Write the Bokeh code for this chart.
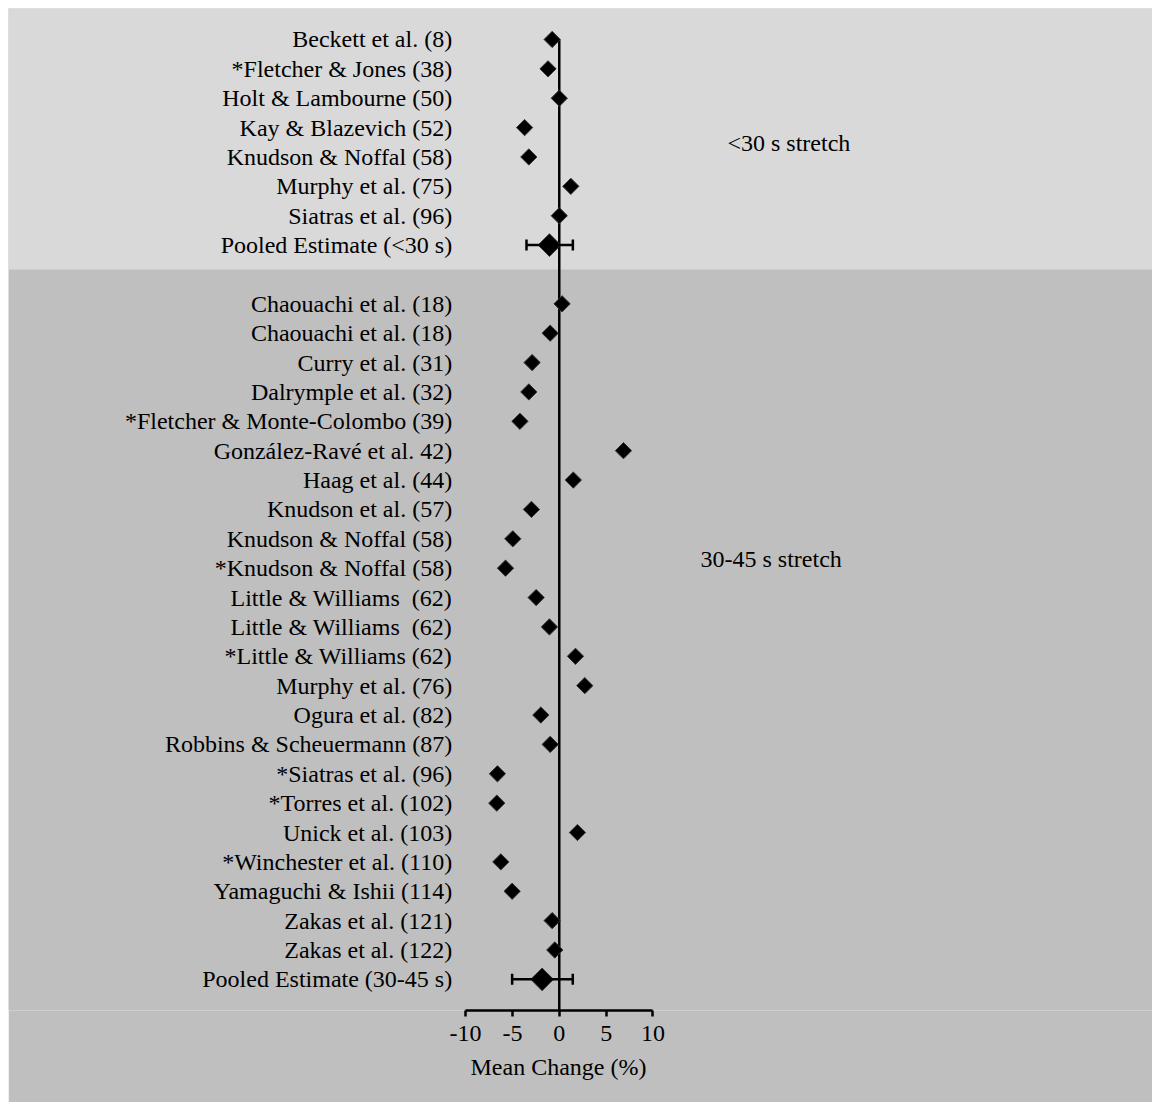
from bokeh.plotting import figure
from bokeh.models import (ColumnDataSource, Range1d, FixedTicker, BoxAnnotation,
                          Whisker, TeeHead, Spacer, Title)
from bokeh.layouts import column, row
from bokeh.core.properties import value
from bokeh.embed import file_html
from bokeh.resources import INLINE

# ---------------- data ----------------
short_labels = ["Beckett et al. (8)", "*Fletcher & Jones (38)", "Holt & Lambourne (50)",
                "Kay & Blazevich (52)", "Knudson & Noffal (58)", "Murphy et al. (75)",
                "Siatras et al. (96)"]
short_values = [-0.76, -1.2, 0.0, -3.7, -3.25, 1.23, 0.0]
short_pooled_label = "Pooled Estimate (<30 s)"
short_pooled = [-1.05, -3.5, 1.45]   # mean, lower, upper

long_labels = ["Chaouachi et al. (18)", "Chaouachi et al. (18)", "Curry et al. (31)",
               "Dalrymple et al. (32)", "*Fletcher & Monte-Colombo (39)",
               "González-Ravé et al. 42)", "Haag et al. (44)", "Knudson et al. (57)",
               "Knudson & Noffal (58)", "*Knudson & Noffal (58)",
               "Little & Williams\u00a0 (62)", "Little & Williams\u00a0 (62)",
               "*Little & Williams (62)", "Murphy et al. (76)",
               "Ogura et al. (82)", "Robbins & Scheuermann (87)", "*Siatras et al. (96)",
               "*Torres et al. (102)", "Unick et al. (103)", "*Winchester et al. (110)",
               "Yamaguchi & Ishii (114)", "Zakas et al. (121)", "Zakas et al. (122)"]
long_values = [0.3, -0.97, -2.9, -3.25, -4.2, 6.85, 1.5, -2.97, -4.96, -5.74, -2.47,
               -1.05, 1.73, 2.72, -1.97, -0.97, -6.6, -6.67, 1.94, -6.24, -5.03,
               -0.76, -0.48]
long_pooled_label = "Pooled Estimate (30-45 s)"
long_pooled = [-1.83, -5.03, 1.44]

group_titles = ["<30 s stretch", "30-45 s stretch"]
x_ticks = [-10, -5, 0, 5, 10]
x_tick_labels = ["-10", "-5", "0", "5", "10"]
x_title = "Mean Change (%)"

# ---------------- layout helpers ----------------
SERIF = "Liberation Serif"
n_short = len(short_labels) + 1
gap = 1
short_rows = list(range(len(short_labels)))
short_pool_row = len(short_labels)
long_start = n_short + gap
long_rows = [long_start + i for i in range(len(long_labels))]
long_pool_row = long_start + len(long_labels)

study_rows = short_rows + long_rows
study_vals = short_values + long_values
pool_rows = [short_pool_row, long_pool_row]
pool_vals = [short_pooled[0], long_pooled[0]]
pool_lo = [short_pooled[1], long_pooled[1]]
pool_hi = [short_pooled[2], long_pooled[2]]

all_labels = short_labels + [short_pooled_label] + long_labels + [long_pooled_label]
all_rows = short_rows + [short_pool_row] + long_rows + [long_pool_row]

W, H = 1144, 1094
frame_h = 1002
x_start, x_end = -58.78, 63.31
y_bottom, y_top = 33.06, -1.055

p = figure(width=W, height=H, output_backend="svg", toolbar_location=None,
           x_range=Range1d(x_start, x_end), y_range=Range1d(y_bottom, y_top),
           y_axis_location=None, min_border_left=0, min_border_right=0,
           min_border_top=0, min_border_bottom=H - frame_h,
           background_fill_color="#bfbfbf", border_fill_color="#bfbfbf",
           outline_line_color=None)
p.grid.visible = False

# top band
p.add_layout(BoxAnnotation(bottom=7.83, top=y_top, fill_color="#d9d9d9", fill_alpha=1.0,
                           line_alpha=0, level="image"))

# zero reference line
p.segment(x0=[0], y0=[short_rows[0]], x1=[0], y1=[y_bottom], line_color="black",
          line_width=2.5)

# pooled CI whiskers
psrc = ColumnDataSource(dict(y=pool_rows, x=pool_vals, lo=pool_lo, hi=pool_hi))
p.add_layout(Whisker(source=psrc, base="y", lower="lo", upper="hi", dimension="width",
                     line_color="black", line_width=2.5, level="glyph",
                     upper_head=TeeHead(size=11, line_width=2.5, line_color="black"),
                     lower_head=TeeHead(size=11, line_width=2.5, line_color="black")))

# study diamonds
ssrc = ColumnDataSource(dict(x=study_vals, y=study_rows))
p.scatter("x", "y", source=ssrc, marker="square", angle=0.785398, size=11.5,
          fill_color="black", line_color="#333333", line_width=1)
p.scatter("x", "y", source=psrc, marker="square", angle=0.785398, size=16,
          fill_color="black", line_color="#333333", line_width=1)

# row labels
lsrc = ColumnDataSource(dict(x=[-11.43] * len(all_labels), y=all_rows, t=all_labels))
p.text("x", "y", text="t", source=lsrc, text_align="right", text_baseline="middle",
       text_font=value(SERIF), text_font_size="24px", text_color="black")

# group titles
gsrc = ColumnDataSource(dict(x=[17.95, 15.07], y=[3.54, 17.7], t=group_titles))
p.text("x", "y", text="t", source=gsrc, text_align="left", text_baseline="middle",
       text_font=value(SERIF), text_font_size="24px", text_color="black")

# x axis
ax = p.xaxis[0]
ax.ticker = FixedTicker(ticks=x_ticks)
ax.major_label_overrides = {t: s for t, s in zip(x_ticks, x_tick_labels)}
ax.bounds = (x_ticks[0], x_ticks[-1])
ax.axis_line_width = 2.5
ax.axis_line_color = "black"
ax.major_tick_line_width = 2.5
ax.major_tick_line_color = "black"
ax.major_tick_in = 0
ax.major_tick_out = 6
ax.minor_tick_line_color = None
ax.major_label_text_font = SERIF
ax.major_label_text_font_size = "24px"
ax.major_label_text_color = "black"
ax.major_label_standoff = 9

# axis title, centred under the -10..10 span
p.add_layout(Title(text=x_title, align="left", offset=462, text_font=SERIF,
                   text_font_size="24px", text_font_style="normal", text_color="black",
                   standoff=16), "below")

layout = column(Spacer(height=8), row(Spacer(width=8), p))
open("out.html", "w").write(file_html(layout, INLINE))
